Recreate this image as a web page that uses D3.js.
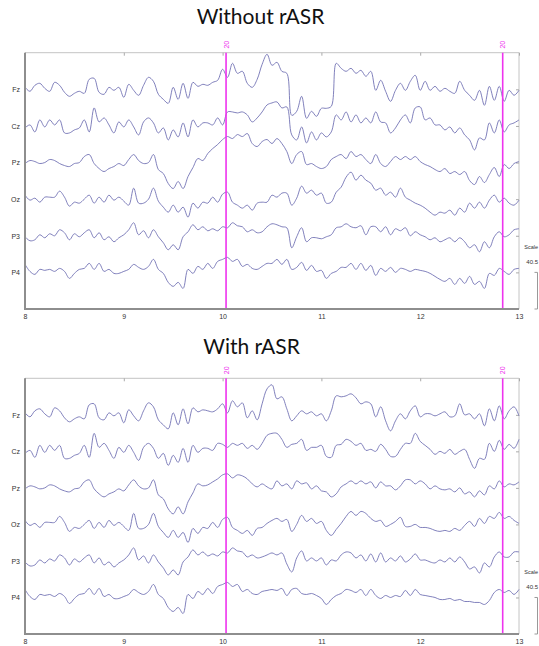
<!DOCTYPE html>
<html><head><meta charset="utf-8">
<script src="https://cdn.jsdelivr.net/npm/d3@7"></script>
<style>html,body{margin:0;padding:0;background:#fff;overflow:hidden}</style>
</head><body>
<svg id="c" width="539" height="646"></svg>
<script>
// ---- data (µV) ----
const channels = ["Fz","Cz","Pz","Oz","P3","P4"];
const xTicks = [8,9,10,11,12,13];
const eventTimes = [10.035, 12.835];
const eventLabels = ["20","20"];
const scaleTitle = "Scale";
const scaleLabel = "40.5";
const titles = ["Without rASR","With rASR"];
const tStart = 8, tStep = 0.05;

const fzRaw = [2,-2,4,6,1,-2,7,4,-3,-7, -4,-2,-4,10,11,-3,-5,2,-1,2, -8,5,-1,-6,4,12,8,-5,-10,-14, 2,-10,6,-9,7,3,5,4,7,9,
 20,12,26,16,18,6,2,10,25,35, 24,27,18,16,-26,-22,-7,-29,-22,-27, -19,-19,-17,26,21,18,21,16,19,13, 18,-1,9,-2,-12,-1,6,-1,8,14,
 -1,8,-1,3,-2,1,-2,-4,8,-1, -6,-11,-1,-16,3,-11,3,-12,-1,-6, -1];
const czRaw = [-2,1,-6,6,-1,6,1,6,-7,-7, -4,-2,6,-6,18,4,8,1,-7,4, -1,6,-1,-9,4,8,3,-7,-2,-14, -4,-11,3,-11,6,-1,3,3,1,8,
 1,14,14,13,14,11,4,8,14,21, 23,24,18,19,-9,-14,-1,-17,-6,-14, -7,-11,-6,11,6,14,4,11,3,8, 3,14,4,3,-7,-2,6,11,3,18,
 19,6,8,1,1,-4,-1,-7,-2,-9, -14,-24,-12,-14,3,-7,6,-6,1,3, 6];
const pzRaw = [-1,2,1,-1,0,3,2,-1,-3,-4, -1,0,6,8,-1,-6,-9,-6,-4,-1, -3,3,8,2,-1,0,8,-7,-11,-21, -26,-19,-26,-14,-5,4,2,9,14,18,
 23,26,24,28,26,29,19,16,21,23, 19,24,19,11,-1,8,11,-2,-1,-4, -6,-4,3,6,8,4,11,6,8,3, -1,8,-1,-4,1,6,3,6,3,6,
 1,-2,-4,-7,-9,-6,-11,-9,-12,-9, -18,-22,-14,-20,-12,-5,-14,-2,-6,-1, 1];
const ozRaw = [4,-1,1,-3,2,2,2,8,2,-7, -3,-4,0,4,-4,2,-3,4,-1,2, -2,-6,11,-4,-4,0,11,-2,-8,-13, -6,-13,-8,-18,-4,-9,-3,-4,2,-3,
 5,7,-3,-6,-9,-6,-11,-4,-3,-3, 4,2,6,6,-6,1,13,6,9,4, 6,-4,-3,7,12,22,27,19,24,19, 16,9,11,4,7,2,11,2,-1,-4,
 -6,-9,-13,-16,-13,-14,-11,-16,-9,-13, -4,-9,-3,-9,-1,4,-3,1,-4,-6, -1];
const p3Raw = [-1,-5,-4,1,-2,2,0,6,3,-4, 2,-1,3,6,-2,3,-4,-1,-6,-2, 1,6,13,1,5,-2,6,-1,-7,-14, -9,-14,-1,4,11,6,9,5,7,5,
 9,8,13,10,9,4,6,3,4,9, 12,11,9,8,-12,-1,8,-6,-2,-2, -3,-1,1,8,9,12,9,8,10,1, 9,9,4,9,1,7,5,8,0,4,
 1,-1,-4,-2,-6,-4,-2,-6,-2,-6, -12,-9,-16,-6,-12,-1,4,-1,1,6, 7];
const p4Raw = [8,1,-2,3,2,3,1,4,1,-6, -1,3,4,9,3,9,1,3,-1,-1, 1,3,8,5,3,6,13,3,-1,-10, -14,-10,-16,3,-1,6,3,9,4,11,
 13,15,11,13,6,8,4,3,6,9, 9,13,8,13,3,5,10,2,7,1, 2,-6,-1,1,5,5,9,3,9,2, 7,-3,4,1,5,0,4,3,1,3,
 2,1,-1,-4,-7,-9,-6,-12,-6,-11, -4,-12,-9,-16,-1,-3,4,1,-2,3, 4];

const fzClean = [2,-2,4,6,1,-2,7,4,-3,-7, -4,-2,-4,10,11,-3,-5,2,-1,2, -8,5,-1,-6,4,12,8,-5,-10,-14, 2,-10,6,-9,7,3,5,4,3,6,
 11,2,14,8,12,-3,4,-5,11,26, 30,16,18,6,-6,-1,4,1,3,-1, 1,-6,4,19,18,19,21,17,11,13, 11,-2,8,-6,-16,-6,1,-4,4,9,
 -2,1,1,-1,1,3,-2,-1,11,0, 1,-4,1,-11,6,-6,9,-4,4,8, -1];
const czClean = [-2,1,-6,6,-1,6,1,6,-7,-7, -4,-2,6,-6,18,4,8,1,-7,4, -1,6,-1,-9,4,8,3,-7,-2,-14, -4,-11,3,-11,6,-1,3,3,1,8,
 7,4,8,6,8,3,6,2,8,16, 18,18,12,4,7,8,12,1,4,4, 6,-5,-6,6,7,12,10,6,8,1, 2,0,7,2,-5,-5,2,8,8,18,
 10,6,2,-3,0,-2,2,-3,0,2, -8,-17,-7,-8,8,0,11,2,7,3, 12];
const pzClean = [-1,2,1,-1,0,3,2,-1,-3,-4, -1,0,6,8,-1,-6,-9,-6,-4,-1, -3,3,8,2,-1,0,8,-7,-11,-21, -26,-19,-26,-14,-5,4,2,3,6,9,
 13,14,10,13,12,9,4,1,4,1, -1,7,2,4,-1,7,4,5,-1,2, -3,-4,-9,-6,1,4,7,4,7,4, 6,0,6,2,2,-2,2,8,8,4,
 7,4,-1,2,-1,-2,-1,-4,0,-6, -4,-9,-3,-7,2,-1,7,1,4,3, 6];
const ozClean = [4,-1,1,-3,2,2,2,8,2,-7, -3,-4,0,4,-4,2,-3,4,-1,2, -2,-6,11,-4,-4,0,11,-2,-8,-13, -6,-13,-8,-18,-4,-9,-3,-4,2,-3,
 5,7,-3,-6,-9,-6,-11,-4,-3,1, 4,6,3,5,-7,0,9,3,6,1, 3,-6,-11,-5,1,8,13,9,13,11, 6,3,4,-2,0,3,7,-2,-2,0,
 -3,-3,-4,-6,-7,-6,-7,-4,-6,-1, 3,-2,6,1,8,6,12,6,8,4, 1];
const p3Clean = [-1,-5,-4,1,-2,2,0,6,3,-4, 2,-1,3,6,-2,3,-4,-1,-6,-2, 1,6,13,1,5,-2,6,-1,-7,-14, -9,-14,-1,4,11,6,9,5,7,5,
 9,8,13,10,9,4,6,3,4,6, 8,6,8,-3,-11,3,10,0,3,0, 3,-4,1,0,6,9,8,3,6,0, 7,-1,8,-1,3,0,5,-1,2,7,
 1,1,-1,-2,1,-1,3,-1,4,-1, -8,-6,-12,-2,-6,4,9,4,4,9, 9];
const p4Clean = [8,1,-2,3,2,3,1,4,1,-6, -1,3,4,9,3,9,1,3,-1,-1, 1,3,8,5,3,6,13,3,-1,-10, -14,-10,-16,3,-1,6,3,9,4,11,
 13,15,11,13,6,8,4,3,6,7, 8,7,9,2,8,9,4,3,4,2, -1,-7,-2,2,4,8,7,5,8,2, 8,2,-1,2,0,2,1,7,2,8,
 3,2,1,0,-2,-2,-1,-3,-2,-4, -4,-5,-5,-7,-3,5,8,5,7,3, 8];

const panelData = [
  [fzRaw, czRaw, pzRaw, ozRaw, p3Raw, p4Raw],
  [fzClean, czClean, pzClean, ozClean, p3Clean, p4Clean]
];

// ---- layout ----
const svg = d3.select("#c");
const left = 25, right = 519;
const panelBoxes = [{top: 52.7, bottom: 309, tx: 260.5, ty: 24}, {top: 378.3, bottom: 634, tx: 251.5, ty: 354}];
const x = d3.scaleLinear().domain([8, 13]).range([left, right]);
const traceColor = "#6a6ab0";
const evColor = "#ee33ee";
const axisGray = "#8e8e8e";
const smallFont = "Liberation Sans, Arial, sans-serif";

panelBoxes.forEach((box, p) => {
  const g = svg.append("g");
  const step = (box.bottom - box.top) / 7;
  const y = d3.scalePoint().domain(channels).range([box.top + step, box.bottom - step]);
  const amp = d3.scaleLinear().domain([0, 1]).range([0, -1]);

  svg.append("text").attr("x", box.tx).attr("y", box.ty).attr("text-anchor", "middle")
    .attr("font-family", "Lato, 'Open Sans', sans-serif").attr("font-size", 21).attr("fill", "#111")
    .text(titles[p]);

  g.append("line").attr("x1", left).attr("x2", right).attr("y1", box.top).attr("y2", box.top)
    .attr("stroke", "#c4c4c4").attr("stroke-width", 1);
  g.append("line").attr("x1", right).attr("x2", right).attr("y1", box.top).attr("y2", box.bottom)
    .attr("stroke", "#c4c4c4").attr("stroke-width", 1);

  const topAx = g.append("g").attr("transform", `translate(0,${box.top})`)
    .call(d3.axisBottom(x).tickValues(xTicks).tickSize(3).tickFormat(""));
  topAx.select(".domain").remove();
  topAx.selectAll("line").attr("stroke", "#aaa");

  const rAx = g.append("g").attr("transform", `translate(${right},0)`)
    .call(d3.axisLeft(y).tickSize(3).tickFormat(""));
  rAx.select(".domain").remove();
  rAx.selectAll("line").attr("stroke", "#aaa");

  const line = d3.line()
    .x((d, i) => x(tStart + i * tStep))
    .curve(d3.curveCatmullRom.alpha(0.5));
  panelData[p].forEach((vals, ci) => {
    const base = y(channels[ci]);
    g.append("path").datum(vals)
      .attr("d", line.y(d => base + amp(d)))
      .attr("fill", "none").attr("stroke", traceColor).attr("stroke-width", 0.85)
      .attr("stroke-linejoin", "round");
  });

  eventTimes.forEach((t, k) => {
    g.append("line").attr("x1", x(t)).attr("x2", x(t)).attr("y1", box.top).attr("y2", box.bottom)
      .attr("stroke", evColor).attr("stroke-width", 1.6);
    g.append("text").attr("transform", `translate(${x(t) + 2.5},${box.top - 8}) rotate(-90)`)
      .attr("text-anchor", "middle").attr("font-family", smallFont)
      .attr("font-size", 7).attr("fill", evColor).text(eventLabels[k]);
  });

  const lAx = g.append("g").attr("transform", `translate(${left},0)`)
    .call(d3.axisLeft(y).tickSize(0).tickPadding(5));
  lAx.select(".domain").remove();
  lAx.selectAll("text").attr("font-family", smallFont).attr("font-size", 7).attr("fill", "#333");
  g.append("line").attr("x1", left).attr("x2", left).attr("y1", box.top).attr("y2", box.bottom + 1)
    .attr("stroke", axisGray).attr("stroke-width", 2);

  const bAx = g.append("g").attr("transform", `translate(0,${box.bottom})`)
    .call(d3.axisBottom(x).tickValues(xTicks).tickSize(0).tickPadding(5).tickFormat(d3.format("d")));
  bAx.select(".domain").remove();
  bAx.selectAll("text").attr("font-family", smallFont).attr("font-size", 7).attr("fill", "#333");
  g.append("line").attr("x1", left - 1).attr("x2", right).attr("y1", box.bottom).attr("y2", box.bottom)
    .attr("stroke", axisGray).attr("stroke-width", 2);

  // scale annotation (kept inside the window)
  const yP4 = y("P4");
  g.append("text").attr("x", 538).attr("y", yP4 - 23).attr("text-anchor", "end").attr("font-family", smallFont)
    .attr("font-size", 5.5).attr("fill", "#333").text(scaleTitle);
  g.append("text").attr("x", 538).attr("y", yP4 - 8).attr("text-anchor", "end").attr("font-family", smallFont)
    .attr("font-size", 6).attr("fill", "#333").text(scaleLabel);
  const bx = 537.5;
  g.append("path").attr("d", `M${bx - 3},${yP4}H${bx}V${box.bottom}H${bx - 3}`)
    .attr("fill", "none").attr("stroke", "#999").attr("stroke-width", 1);
});
</script>
</body></html>
